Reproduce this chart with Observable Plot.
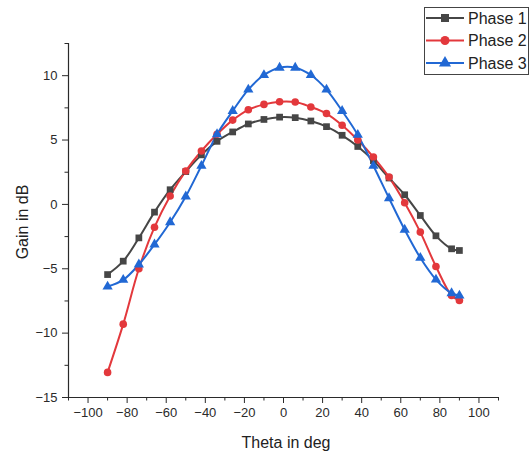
<!DOCTYPE html>
<html><head><meta charset="utf-8">
<script src="https://cdn.jsdelivr.net/npm/d3@7"></script>
<script src="https://cdn.jsdelivr.net/npm/@observablehq/plot@0.6"></script>
<style>
body{margin:0;background:#fff;font-family:"Liberation Sans",Arial,sans-serif;}
#wrap{position:relative;width:530px;height:455px;}
#legend{position:absolute;left:0;top:0;}
</style></head><body><div id="wrap"></div>
<script>
const theta = [-90,-82,-74,-66,-58,-50,-42,-34,-26,-18,-10,-2,6,14,22,30,38,46,54,62,70,78,86,90];
const phase1 = [-5.45,-4.41,-2.6,-0.6,1.14,2.55,3.85,4.9,5.63,6.25,6.6,6.78,6.74,6.48,6.04,5.37,4.5,3.4,2.05,0.75,-0.86,-2.44,-3.45,-3.58];
const phase2 = [-13.05,-9.3,-5.0,-1.77,0.65,2.6,4.15,5.45,6.55,7.35,7.77,7.98,7.95,7.57,7.06,6.15,5.0,3.68,2.12,0.13,-2.15,-4.82,-7.08,-7.47];
const phase3 = [-6.38,-5.86,-4.67,-3.11,-1.38,0.62,3.0,5.45,7.26,8.92,10.05,10.62,10.62,10.05,8.92,7.26,5.4,3.0,0.48,-1.97,-4.15,-5.84,-6.9,-7.08];
const names = ["Phase 1","Phase 2","Phase 3"];
const colors = ["#464646","#e3383c","#2168d4"];
const symbols = ["square","circle","triangle"];
const xMajor = [-100,-80,-60,-40,-20,0,20,40,60,80,100];
const xMinor = [-110,-90,-70,-50,-30,-10,10,30,50,70,90,110];
const yMajor = [-15,-10,-5,0,5,10];
const yMinor = [-12.5,-7.5,-2.5,2.5,7.5,12.5];
const xTitle = "Theta in deg";
const yTitle = "Gain in dB";

const seriesVals = [phase1, phase2, phase3];
const data = names.flatMap((n, k) => theta.map((t, i) => ({theta: t, gain: seriesVals[k][i], phase: n})));

const axisColor = "#2a2a2a";
const plot = Plot.plot({
  width: 530, height: 455,
  marginLeft: 68, marginRight: 32, marginTop: 43, marginBottom: 58,
  style: {fontFamily: "'Liberation Sans', Arial, sans-serif", fontSize: "13px", color: "#2a2a2a", background: "#fff", overflow: "visible"},
  x: {domain: [-110, 110]},
  y: {domain: [-15, 12.5]},
  color: {domain: names, range: colors},
  symbol: {domain: names, range: symbols},
  marks: [
    Plot.axisX({ticks: xMajor, tickSize: 6, tickPadding: 4, label: null, fontSize: 13, stroke: axisColor}),
    Plot.axisX({ticks: xMinor, tickSize: 3.5, tickFormat: () => "", label: null, stroke: axisColor}),
    Plot.axisY({ticks: yMajor, tickSize: 6, tickPadding: 5, label: null, fontSize: 13, stroke: axisColor}),
    Plot.axisY({ticks: yMinor, tickSize: 3.5, tickFormat: () => "", label: null, stroke: axisColor}),
    Plot.ruleY([-15], {stroke: axisColor, strokeWidth: 1.2}),
    Plot.ruleX([-110], {stroke: axisColor, strokeWidth: 1.2}),
    Plot.line(data, {x: "theta", y: "gain", stroke: "phase", z: "phase", curve: "catmull-rom", strokeWidth: 2}),
    Plot.dot(data, {x: "theta", y: "gain", fill: "phase", symbol: "phase", r: 3.8, stroke: "none"})
  ]
});
const wrap = document.getElementById("wrap");
wrap.appendChild(plot);

// axis titles
const sx = plot.scale("x"), sy = plot.scale("y");
const svg = d3.select(plot);
const xMid = (sx.range[0] + sx.range[1]) / 2;
const yMid = (sy.range[0] + sy.range[1]) / 2;
svg.append("text").attr("x", xMid + 3).attr("y", 448).attr("text-anchor", "middle")
  .attr("font-size", 16).attr("fill", "#222").text(xTitle);
svg.append("text").attr("transform", `translate(28,${yMid + 2}) rotate(-90)`).attr("text-anchor", "middle")
  .attr("font-size", 16).attr("fill", "#222").text(yTitle);

// legend
const lg = d3.select(wrap).append("svg").attr("id", "legend").attr("width", 530).attr("height", 85);
const bx = 424, by = 7, bw = 104, bh = 67;
lg.append("rect").attr("x", bx + 0.5).attr("y", by + 0.5).attr("width", bw).attr("height", bh)
  .attr("fill", "#fff").attr("stroke", "#444").attr("stroke-width", 1);
const symGen = {square: d3.symbolSquare, circle: d3.symbolCircle, triangle: d3.symbolTriangle};
names.forEach((n, i) => {
  const yy = by + 11 + i * 22.5;
  lg.append("line").attr("x1", bx + 2).attr("x2", bx + 40).attr("y1", yy).attr("y2", yy)
    .attr("stroke", colors[i]).attr("stroke-width", 2);
  lg.append("path").attr("transform", `translate(${bx + 21},${yy})`)
    .attr("d", d3.symbol(symGen[symbols[i]], 4.5 * 4.5 * Math.PI)()).attr("fill", colors[i]);
  lg.append("text").attr("x", bx + 44).attr("y", yy).attr("dy", "0.35em")
    .attr("font-size", 16).attr("fill", "#222").text(n);
});
</script></body></html>
